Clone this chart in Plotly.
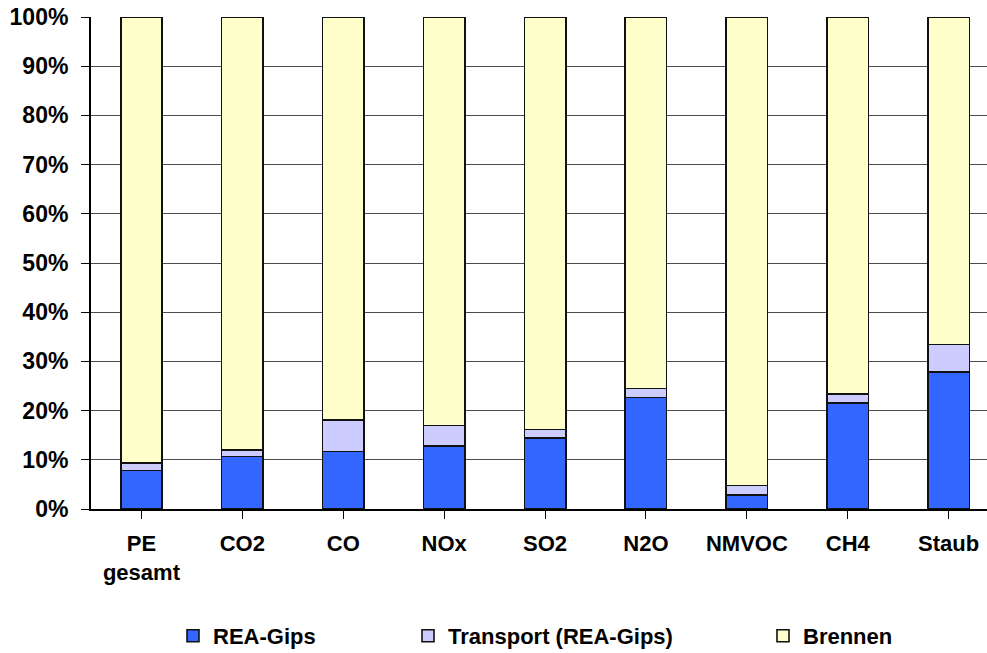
import plotly.graph_objects as go

# Categories and shares (percent) per component
categories = ["PE<br>gesamt", "CO2", "CO", "NOx", "SO2", "N2O", "NMVOC", "CH4", "Staub"]
rea_gips = [7.8, 10.7, 11.7, 12.8, 14.4, 22.7, 2.8, 21.5, 27.9]
transport = [1.5, 1.25, 6.4, 4.2, 1.8, 1.8, 2.0, 1.9, 5.5]
brennen = [round(100 - a - b, 2) for a, b in zip(rea_gips, transport)]
y_ticks = list(range(0, 101, 10))
y_tick_labels = [f"{v}%" for v in y_ticks]

W, H = 987, 653
FONT = "Arial, Liberation Sans, sans-serif"

series = [
    ("REA-Gips", rea_gips, "#3366FF", "legend"),
    ("Transport (REA-Gips)", transport, "#CCCCFF", "legend2"),
    ("Brennen", brennen, "#FFFFCC", "legend3"),
]

fig = go.Figure()
for name, vals, color, leg in series:
    fig.add_trace(go.Bar(
        x=list(range(len(categories))), y=vals, name=name,
        marker=dict(color=color, line=dict(color="#111111", width=1.6)),
        legend=leg, showlegend=True,
    ))

def legend_at(px, py):
    return dict(
        xref="container", yref="container",
        x=px / W, y=1 - py / H, xanchor="left", yanchor="middle",
        font=dict(family=FONT, size=22, color="#000000", weight="bold"),
        bgcolor="rgba(0,0,0,0)", itemwidth=30,
    )

fig.update_layout(
    width=W, height=H,
    barmode="stack", bargap=0.59, showlegend=True,
    plot_bgcolor="white", paper_bgcolor="white",
    margin=dict(l=91, r=0, t=17, b=144, autoexpand=False),
    font=dict(family=FONT, size=22, color="#000000"),
    legend=legend_at(173, 636),
    legend2=legend_at(408, 636),
    legend3=legend_at(763, 636),
    xaxis=dict(
        tickmode="array", tickvals=list(range(len(categories))), ticktext=categories,
        range=[-0.5, 8.38], showgrid=False, tickangle=0, automargin=False,
        showline=True, linecolor="#000000", linewidth=2,
        ticks="outside", ticklen=8, tickcolor="#000000", tickwidth=1,
        ticklabelstandoff=6,
        tickfont=dict(family=FONT, size=22, color="#000000", weight="bold"),
    ),
    yaxis=dict(
        range=[0, 100], tickmode="array", tickvals=y_ticks, ticktext=y_tick_labels,
        showgrid=True, gridcolor="#4d4d4d", gridwidth=1, automargin=False,
        showline=True, linecolor="#000000", linewidth=2,
        ticks="outside", ticklen=8, tickcolor="#000000", tickwidth=1,
        ticklabelstandoff=8,
        tickfont=dict(family=FONT, size=23, color="#000000", weight="bold"),
        zeroline=False,
    ),
)

fig.write_html("out.html")
